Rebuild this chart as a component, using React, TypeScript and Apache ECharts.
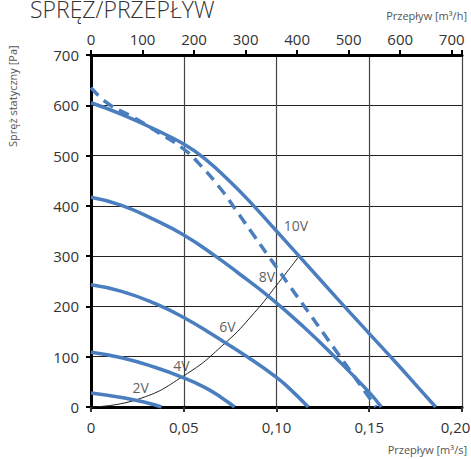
import React, { useEffect, useRef } from "react";
import * as echarts from "echarts";

// flow [m3/s], static pressure [Pa]
const curve10V: [number, number][] = [
  [0, 605], [0.0165, 582], [0.0344, 552], [0.05, 523], [0.0613, 494], [0.0756, 446],
  [0.0882, 398], [0.1, 350], [0.1122, 300], [0.1324, 217], [0.15, 146], [0.1647, 87],
  [0.1773, 35], [0.1858, 0],
];
const curve10Vmax: [number, number][] = [
  [0, 635], [0.0093, 603], [0.0219, 578], [0.0362, 546], [0.05, 513], [0.0577, 486],
  [0.0703, 432], [0.0792, 386], [0.0882, 339], [0.0953, 302], [0.1, 278], [0.1072, 240],
  [0.1162, 194], [0.1252, 147], [0.1324, 110], [0.1405, 68], [0.1486, 26], [0.1536, 0],
];
const curve8V: [number, number][] = [
  [0, 417], [0.0165, 401], [0.0344, 372], [0.05, 342], [0.0667, 301], [0.0792, 267],
  [0.0964, 218], [0.1144, 160], [0.1324, 96], [0.15, 29], [0.1565, 0],
];
const curve6V: [number, number][] = [
  [0, 243], [0.0165, 230], [0.0344, 206], [0.05, 178], [0.0667, 141], [0.0846, 99],
  [0.1, 59], [0.1072, 36], [0.1171, 0],
];
const curve4V: [number, number][] = [
  [0, 109], [0.0165, 98], [0.0344, 79], [0.05, 58], [0.0613, 39], [0.0702, 19], [0.0774, 0],
];
const curve2V: [number, number][] = [
  [0, 28], [0.0165, 19], [0.0285, 10], [0.038, 0],
];
const systemCurve: [number, number][] = [
  [0, 0], [0.025, 15], [0.05, 62], [0.072, 126], [0.0882, 188], [0.1, 242], [0.1122, 300],
];
const voltageLabels = ["2V", "4V", "6V", "8V", "10V"];
const voltageLabelPos: [number, number][] = [
  [0.0268, 38], [0.0487, 82], [0.0735, 160], [0.0949, 259], [0.1105, 360],
];
const bottomTicks = [0, 0.05, 0.1, 0.15, 0.2];
const topTicks = [0, 100, 200, 300, 400, 500, 600, 700];
const pressureTicks = [0, 100, 200, 300, 400, 500, 600, 700];

const BLUE = "#4a7ebf";
const FONT = "'Open Sans', sans-serif";

export default function App() {
  const ref = useRef<HTMLDivElement>(null);
  useEffect(() => {
    if (!ref.current) return;
    const chart = echarts.init(ref.current, null, { renderer: "svg" });
    const blueLine = (name: string, data: [number, number][], dashed = false) => ({
      name,
      type: "line",
      data,
      smooth: 0.5,
      showSymbol: false,
      symbol: "none",
      xAxisIndex: 0,
      yAxisIndex: 0,
      lineStyle: { color: BLUE, width: 3.5, type: dashed ? [11, 7] : "solid", cap: "butt" },
      z: 5,
    });
    const maxX = bottomTicks[bottomTicks.length - 1];
    chart.setOption({
      animation: false,
      backgroundColor: "#fff",
      textStyle: { fontFamily: FONT },
      grid: { left: 91, right: 9, top: 55, bottom: 52, containLabel: false, outerBoundsMode: "none" },
      xAxis: [
        {
          type: "value",
          position: "bottom",
          min: bottomTicks[0],
          max: maxX,
          interval: 0.05,
          axisLine: { show: true, onZero: false, lineStyle: { color: "#000", width: 3 } },
          axisTick: { show: true, inside: false, length: 5, lineStyle: { color: "#333", width: 2 } },
          axisLabel: {
            color: "#333",
            fontSize: 15,
            fontFamily: FONT,
            margin: 12,
            formatter: (v: number) => {
              const s = v === 0 ? "0" : v.toFixed(2).replace(".", ",");
              return Math.abs(v - maxX) < 1e-9 ? `{last|${s}}` : s;
            },
            rich: {
              last: { color: "#333", fontSize: 15, fontFamily: FONT, padding: [0, 13, 0, 0] },
            },
          },
          splitLine: { show: true, lineStyle: { color: "#444", width: 1.2 } },
        },
        {
          type: "value",
          position: "top",
          min: topTicks[0],
          max: 720,
          interval: 100,
          axisLine: { show: true, onZero: false, lineStyle: { color: "#000", width: 3 } },
          axisTick: { show: true, inside: false, length: 5, lineStyle: { color: "#000", width: 2 } },
          axisLabel: {
            color: "#333",
            fontSize: 15,
            fontFamily: FONT,
            margin: 9,
            formatter: (v: number) => (topTicks.includes(v) ? String(v) : ""),
          },
          splitLine: { show: false },
        },
      ],
      yAxis: {
        type: "value",
        min: pressureTicks[0],
        max: pressureTicks[pressureTicks.length - 1],
        interval: 100,
        axisLine: { show: true, onZero: false, lineStyle: { color: "#000", width: 3 } },
        axisTick: { show: true, inside: false, length: 5, lineStyle: { color: "#000", width: 2 } },
        axisLabel: { color: "#333", fontSize: 15, fontFamily: FONT, margin: 12 },
        splitLine: { show: true, lineStyle: { color: "#222", width: 1.2 } },
      },
      graphic: [
        {
          type: "text",
          left: 30,
          top: -3,
          style: { text: "SPRĘŻ/PRZEPŁYW", fontSize: 23, fontFamily: FONT, fill: "#333", fontWeight: 300 },
        },
        {
          type: "text",
          right: 4,
          top: 10,
          style: { text: "Przepływ [m³/h]", fontSize: 11, fontFamily: FONT, fill: "#555" },
        },
        {
          type: "text",
          right: 4,
          top: 444,
          style: { text: "Przepływ [m³/s]", fontSize: 11, fontFamily: FONT, fill: "#555" },
        },
        {
          type: "text",
          x: 7,
          y: 147,
          rotation: Math.PI / 2,
          style: { text: "Spręż statyczny [Pa]", fontSize: 11, fontFamily: FONT, fill: "#555" },
        },
      ],
      series: [
        blueLine("10V", curve10V),
        blueLine("10V max", curve10Vmax, true),
        blueLine("8V", curve8V),
        blueLine("6V", curve6V),
        blueLine("4V", curve4V),
        blueLine("2V", curve2V),
        {
          name: "system",
          type: "line",
          data: systemCurve,
          smooth: true,
          showSymbol: false,
          symbol: "none",
          lineStyle: { color: "#222", width: 1 },
          z: 4,
        },
        {
          name: "labels",
          type: "scatter",
          symbolSize: 0,
          data: voltageLabelPos.map((p, i) => ({ value: p, name: voltageLabels[i] })),
          label: {
            show: true,
            position: "inside",
            formatter: (p: any) => p.name,
            color: "#333",
            fontSize: 14,
            fontFamily: FONT,
          },
          z: 6,
        },
      ],
    });
    return () => chart.dispose();
  }, []);
  return (
    <div
      ref={ref}
      style={{ position: "absolute", left: 0, top: 0, width: 471, height: 459 }}
    />
  );
}
